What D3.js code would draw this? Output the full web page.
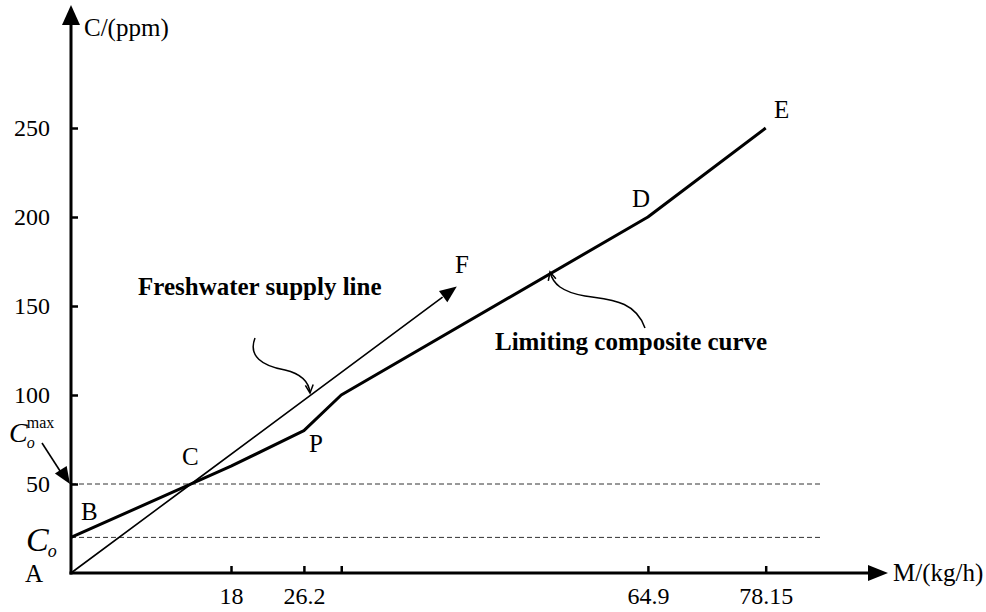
<!DOCTYPE html>
<html>
<head>
<meta charset="utf-8">
<script src="https://cdn.jsdelivr.net/npm/d3@7"></script>
<style>
  html, body { margin: 0; padding: 0; background: #fff; }
  svg { display: block; font-family: "Liberation Serif", "Times New Roman", serif; }
</style>
</head>
<body>
<svg></svg>
<script>
const width = 986,
      height = 612;

// limiting composite curve B - C - P - D - E
const limitingM = [0, 18, 26.2, 30.4, 64.9, 78.15];
const limitingC = [20, 60, 80, 100, 200, 250];
// freshwater supply line A -> C -> F
const supplyM = [0, 13.5, 43.4];
const supplyC = [0, 50, 161];

const xTicks = [18, 26.2, 30.4, 64.9, 78.15];
const xTickLabels = ['18', '26.2', '', '64.9', '78.15'];
const yTicks = [50, 100, 150, 200, 250];

const cO = 20,      // C_o
      cOmax = 50;   // C_o^max
const dashEndM = 84.3;

const svg = d3.select('svg')
  .attr('width', width)
  .attr('height', height);

const x = d3.scaleLinear().domain([0, 78.15]).range([71, 765.7]);
const y = d3.scaleLinear().domain([0, 250]).range([573, 128]);

const line = d3.line()
  .x(d => x(d[0]))
  .y(d => y(d[1]));

// dashed reference lines
[cO, cOmax].forEach(v => {
  svg.append('line')
    .attr('x1', x(0)).attr('x2', x(dashEndM))
    .attr('y1', y(v)).attr('y2', y(v))
    .attr('stroke', '#333')
    .attr('stroke-width', 1)
    .attr('stroke-dasharray', '5,3');
});

// axes
const xAxis = svg.append('g')
  .attr('transform', 'translate(0,' + y(0) + ')')
  .call(d3.axisBottom(x).tickValues(xTicks).tickSize(-7).tickPadding(14)
    .tickFormat((d, i) => xTickLabels[i]));

const yAxis = svg.append('g')
  .attr('transform', 'translate(' + x(0) + ',0)')
  .call(d3.axisLeft(y).tickValues(yTicks).tickSize(-7).tickPadding(21));

[xAxis, yAxis].forEach(g => {
  g.select('.domain').remove();
  g.selectAll('.tick line').attr('stroke', '#000').attr('stroke-width', 2.5);
  g.selectAll('.tick text')
    .attr('fill', '#000')
    .style('font-family', '"Liberation Serif", serif')
    .style('font-size', '24px');
});

// axis lines with arrow heads
svg.append('line')
  .attr('x1', x(0)).attr('y1', y(0) + 1.5)
  .attr('x2', x(0)).attr('y2', 20)
  .attr('stroke', '#000').attr('stroke-width', 3);
svg.append('path')
  .attr('d', 'M' + [x(0), 5] + 'L' + [x(0) - 9, 25] + 'L' + [x(0) + 9, 25] + 'Z')
  .attr('fill', '#000');

svg.append('line')
  .attr('x1', x(0) - 1.5).attr('y1', y(0))
  .attr('x2', 872).attr('y2', y(0))
  .attr('stroke', '#000').attr('stroke-width', 3);
svg.append('path')
  .attr('d', 'M' + [888, y(0)] + 'L' + [868, y(0) - 8] + 'L' + [868, y(0) + 8] + 'Z')
  .attr('fill', '#000');

svg.append('text')
  .attr('x', 84).attr('y', 36)
  .style('font-size', '25px')
  .text('C/(ppm)');

svg.append('text')
  .attr('x', 893).attr('y', 581)
  .style('font-size', '25px')
  .text('M/(kg/h)');

// freshwater supply line
const supply = supplyM.map((m, i) => [m, supplyC[i]]);
svg.append('path')
  .datum(supply.slice(0, 2).concat([[supply[2][0] - 1.6, supply[2][1] - 6]]))
  .attr('d', line)
  .attr('fill', 'none')
  .attr('stroke', '#000')
  .attr('stroke-width', 1.6);

// arrow head at F
const fEnd = supply[2], fPrev = supply[1];
const ang = Math.atan2(y(fEnd[1]) - y(fPrev[1]), x(fEnd[0]) - x(fPrev[0]));
svg.append('path')
  .attr('d', 'M0,0L-17,-7L-17,7Z')
  .attr('transform', 'translate(' + [x(fEnd[0]), y(fEnd[1])] + ') rotate(' + ang * 180 / Math.PI + ')')
  .attr('fill', '#000');

// limiting composite curve
svg.append('path')
  .datum(limitingM.map((m, i) => [m, limitingC[i]]))
  .attr('d', line)
  .attr('fill', 'none')
  .attr('stroke', '#000')
  .attr('stroke-width', 3)
  .attr('stroke-linejoin', 'round');

// point labels
const pointLabels = [
  {t: 'A', x: 25, y: 582},
  {t: 'B', x: 81, y: 520},
  {t: 'C', x: 182, y: 465},
  {t: 'P', x: 309, y: 452},
  {t: 'D', x: 632, y: 207},
  {t: 'E', x: 774, y: 118},
  {t: 'F', x: 455, y: 273}
];
svg.selectAll('text.pt')
  .data(pointLabels)
  .enter().append('text')
  .attr('class', 'pt')
  .attr('x', d => d.x).attr('y', d => d.y)
  .style('font-size', '25px')
  .text(d => d.t);

// C_o labels
const co = svg.append('text')
  .attr('x', 26).attr('y', 551)
  .style('font-size', '34px').style('font-style', 'italic')
  .text('C');
co.append('tspan').attr('dx', -1).attr('dy', 6).style('font-size', '18px').text('o');

const cmax = svg.append('text')
  .attr('x', 9).attr('y', 442)
  .style('font-size', '28px').style('font-style', 'italic')
  .text('C');
cmax.append('tspan').attr('dx', -1).attr('dy', 6).style('font-size', '16px').text('o');
cmax.append('tspan').attr('dx', -8).attr('dy', -20).style('font-size', '16px')
  .style('font-style', 'normal').text('max');

svg.append('line')
  .attr('x1', 42).attr('y1', 443)
  .attr('x2', 62).attr('y2', 474)
  .attr('stroke', '#000').attr('stroke-width', 1.6);
svg.append('path')
  .attr('d', 'M0,0L-17,-7L-17,7Z')
  .attr('transform', 'translate(' + [x(0) - 1, y(cOmax)] + ') rotate(' + Math.atan2(31, 20) * 180 / Math.PI + ')')
  .attr('fill', '#000');

// annotations
function curlyArrow(d, tip, dir) {
  svg.append('path')
    .attr('d', d)
    .attr('fill', 'none')
    .attr('stroke', '#000')
    .attr('stroke-width', 1.5);
  const a = dir * Math.PI / 180;
  const len = 9, spread = 0.45;
  svg.append('path')
    .attr('d', 'M' + [tip[0] - len * Math.cos(a - spread), tip[1] - len * Math.sin(a - spread)] +
      'L' + tip + 'L' + [tip[0] - len * Math.cos(a + spread), tip[1] - len * Math.sin(a + spread)])
    .attr('fill', 'none')
    .attr('stroke', '#000')
    .attr('stroke-width', 1.5);
}

curlyArrow('M255,338 C248,356 262,366 285,370 C302,374 309,382 310,393', [310, 393], 85);
curlyArrow('M645,328 C635,300 610,300 585,296 C562,292 553,284 550,272', [550, 272], -105);

svg.append('text')
  .attr('x', 138).attr('y', 295)
  .style('font-size', '25px').style('font-weight', 'bold')
  .text('Freshwater supply line');

svg.append('text')
  .attr('x', 495).attr('y', 350)
  .style('font-size', '25px').style('font-weight', 'bold')
  .text('Limiting composite curve');
</script>
</body>
</html>
